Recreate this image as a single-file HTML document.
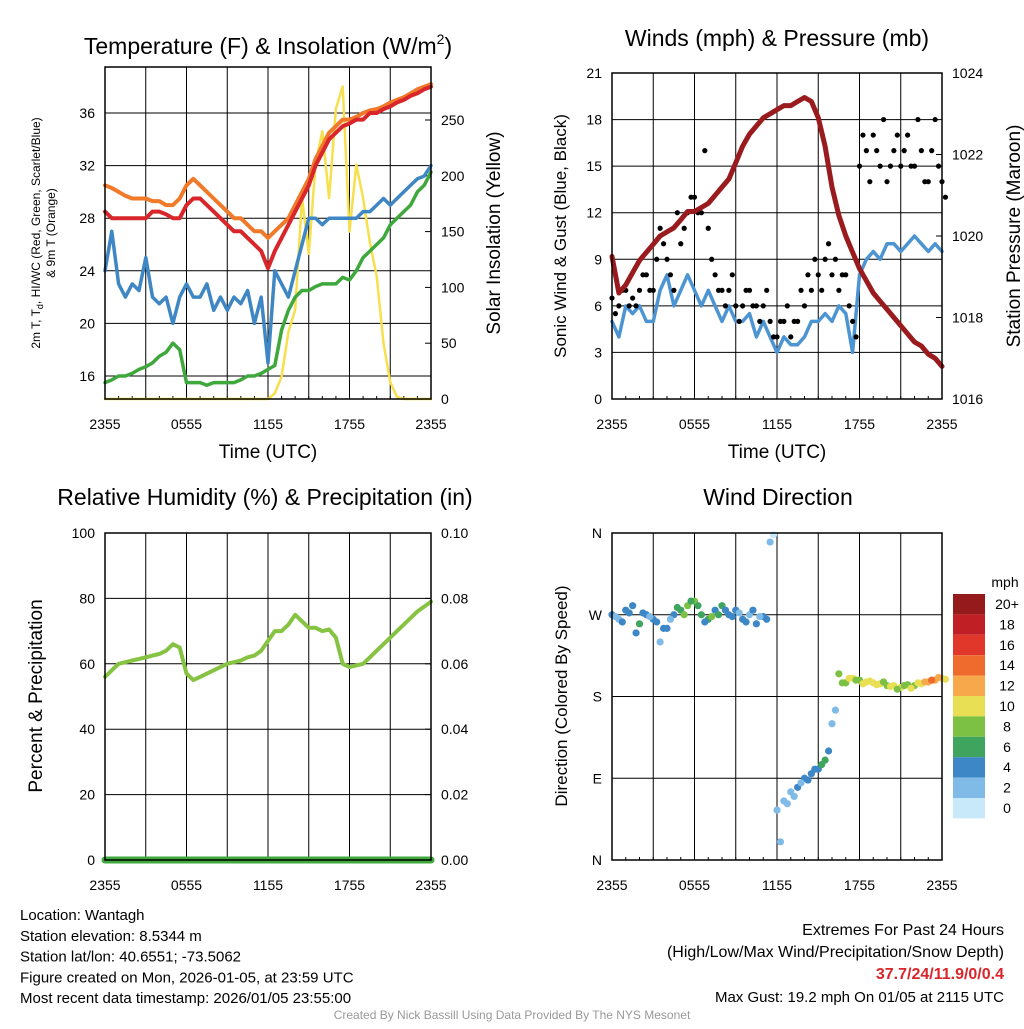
<!DOCTYPE html>
<html><head><meta charset="utf-8"><style>
body{margin:0;background:#fff;font-family:"Liberation Sans",sans-serif}
svg text{font-family:"Liberation Sans",sans-serif}
</style></head><body>
<svg id="s" width="1024" height="1024" xmlns="http://www.w3.org/2000/svg">
<rect width="1024" height="1024" fill="#fff"/>
</svg>
<script>
const tempRed=[28.5,28,28,28,28,28,28,28.5,28.5,28.3,28,28,29,29.5,29.5,29,28.5,28,27.5,27,27,26.5,26,25.5,24.2,25.5,26.5,27.5,28.5,29.5,30.5,32,33,34,34.5,35,35.2,35.5,35.5,36,36,36.3,36.5,36.8,37,37.3,37.5,37.8,38];
const temp9m=[30.5,30.3,30,29.7,29.5,29.5,29.5,29.3,29.3,29,29,29.5,30.5,31,30.5,30,29.5,29,28.5,28,28,27.5,27,27,26.5,27,27.5,28,29,30,31,32.5,33.5,34.5,35,35.5,35.5,35.7,36,36.2,36.3,36.5,36.8,37,37.2,37.5,37.8,38,38.2];
const dewpt=[15.5,15.7,16,16,16.2,16.5,16.7,17,17.5,17.8,18.5,18,15.5,15.5,15.5,15.3,15.5,15.5,15.5,15.5,15.7,16,16,16.2,16.5,16.8,19.5,21,22,22.5,22.5,22.8,23,23,23,23.5,23.3,24,25,25.5,26,26.5,27.5,28,28.5,29,30,30.5,31.5];
const windChill=[24,27,23,22,23,22.5,25,22,21.5,22,20,22,23,22,22,23,21,22,21,22,21.5,22.5,20,22,17,24,23,22,24,26,28,28,27.5,28,28,28,28,28,28.5,28.5,29,29.5,29,29.5,30,30.5,31,31.2,32];
const solar=[0,0,0,0,0,0,0,0,0,0,0,0,0,0,0,0,0,0,0,0,0,0,0,0,0,5,20,60,80,180,130,210,240,180,260,280,150,210,180,140,110,50,15,2,0,0,0,0,0];
const windSpd=[5,4,6,5.5,6,5,5,7,8,6,7,8,7,6,7,6,5,6,5,5,5.5,4,5,4,3,4,3.5,3.5,4,5,5,5.5,5,6,5.5,3,8,9,9.5,9,10,10,9.5,10,10.5,10,9.5,10,9.5];
const gustA=[6.5,6,7,6.5,7,8,7,11,9,7,10,12,13,12,11,8,7,7,6,6,7,6,6,5,4,5,4,5,6,7,8,9,8,7,8,5,15,16,17,15,14,16,15,17,15,16,14,18,14];
const gustB=[5.5,7,6,6,8,7,9,10,8,12,11,13,12,16,9,7,6,8,5,7,6,5,7,4,5,6,5,7,8,9,7,10,9,8,6,4,17,14,16,18,15,17,16,15,18,14,16,15,13];
const pressure=[1019.5,1018.6,1018.8,1019.1,1019.4,1019.6,1019.8,1020,1020.1,1020.2,1020.4,1020.6,1020.6,1020.7,1020.8,1021,1021.2,1021.4,1021.8,1022.2,1022.5,1022.7,1022.9,1023,1023.1,1023.2,1023.2,1023.3,1023.4,1023.3,1022.9,1022.2,1021.2,1020.5,1020,1019.6,1019.2,1018.9,1018.6,1018.4,1018.2,1018,1017.8,1017.6,1017.4,1017.3,1017.1,1017,1016.8];
const rh=[56,58,60,60.5,61,61.5,62,62.5,63,64,66,65,57,55,56,57,58,59,60,60.5,61,62,62.5,64,67,70,70,72,75,73,71,71,70,70.5,68,60,59,59.5,60,62,64,66,68,70,72,74,76,77.5,79];
const precip=[0,0,0,0,0,0,0,0,0,0,0,0,0,0,0,0,0,0,0,0,0,0,0,0,0,0,0,0,0,0,0,0,0,0,0,0,0,0,0,0,0,0,0,0,0,0,0,0,0];
const dirA=[270,265,275,280,260,270,265,240,255,270,275,280,285,270,265,275,280,270,275,265,270,260,268,350,55,65,75,80,90,95,100,110,150,205,195,200,198,196,195,194,192,192,190,193,192,194,196,198,200];
const spdA=[4,3,5,4,6,4,4,3,4,5,7,8,8,6,7,5,6,4,4,5,3,4,4,2,3,2,3,4,4,5,5,6,2,8,9,10,9,10,11,10,9,10,10,8,9,11,12,13,10];
const dirB=[268,262,272,250,272,268,262,255,265,278,270,285,280,262,268,270,275,268,272,262,275,268,265,358,20,62,70,85,88,100,105,120,165,195,200,198,194,197,193,196,191,188,192,189,195,196,198,201,199];
const spdB=[3,4,4,5,4,3,5,4,3,6,8,7,7,5,8,6,5,5,3,4,4,3,5,1,2,3,2,3,5,4,6,5,3,9,10,9,10,11,10,9,10,8,9,10,11,12,14,12,11];
const xTicks=["2355","0555","1155","1755","2355"];
const cbLabels=["20+","18","16","14","12","10","8","6","4","2","0"];
const cbColors=["#941a1c","#c11f26","#e0372a","#ef6a2d","#f7a84a","#e8df55","#7cc143","#3fa45e","#3d87c6","#7fbbe6","#c8e9fa"];

const S=document.getElementById('s');const NS="http://www.w3.org/2000/svg";
function el(t,a,txt){const e=document.createElementNS(NS,t);for(const k in a)e.setAttribute(k,a[k]);if(txt!==undefined)e.textContent=txt;S.appendChild(e);return e;}
function lin(d0,d1,r0,r1){return v=>r0+(v-d0)*(r1-r0)/(d1-d0);}
function path(arr,xs,ys){return arr.map((v,i)=>(i?'L':'M')+xs(i/2).toFixed(1)+' '+ys(v).toFixed(1)).join(' ');}
function text(x,y,s,o){o=o||{};const t=el('text',{x:x,y:y,'font-size':o.fs||14,'text-anchor':o.a||'middle',fill:o.fill||'#000','font-weight':o.fw||'normal'},s);if(o.rot)t.setAttribute('transform','rotate(-90 '+x+' '+y+')');return t;}
function panel(name,x0,x1,y0,y1){
  const xs=lin(0,24,x0,x1);
  for(let h=3;h<24;h+=3){const l=el('line',{x1:xs(h),x2:xs(h),y1:y0,y2:y1,stroke:'#000','stroke-width':1});}
  xTicks.forEach((t,i)=>{const x=xs(i*6);el('line',{x1:x,x2:x,y1:y1,y2:y1-6,stroke:'#000'});const tt=text(x,y1+30,t);});
  for(let h=0;h<=24;h+=1){el('line',{x1:xs(h),x2:xs(h),y1:y1,y2:y1-3,stroke:'#000'});}
  return xs;
}
function frame(name,x0,x1,y0,y1){const r=el('rect',{x:x0,y:y0,width:x1-x0,height:y1-y0,fill:'none',stroke:'#000','stroke-width':1.5});}
function hgrid(ys,vals,x0,x1,fmt,side){vals.forEach(v=>{const y=ys(v);el('line',{x1:x0,x2:x1,y1:y,y2:y,stroke:'#000'});const t=side==='r'?text(x1+10,y+5,fmt(v),{a:'start'}):text(x0-10,y+5,fmt(v),{a:'end'});});}
function line(d,c,w,name){const p=el('path',{d:d,fill:'none',stroke:c,'stroke-width':w,'stroke-linejoin':'round','stroke-linecap':'round'});return p;}

// Panel 1
{const x0=105,x1=431,y0=67,y1=399;const xs=panel('temp',x0,x1,y0,y1);
const ys=lin(16,36,376,113);const yr=lin(0,250,399,120);
hgrid(ys,[16,20,24,28,32,36],x0,x1,v=>v);
[0,50,100,150,200,250].forEach(v=>{const y=yr(v);el('line',{x1:x1,x2:x1-6,y1:y,y2:y,stroke:'#000'});const t=text(x1+10,y+5,v,{a:'start'});});
line(path(solar,xs,yr),'#f6e04d',2.5,'solar-line');
line(path(windChill,xs,ys),'#3f87c4',3.5,'windchill-line');
line(path(dewpt,xs,ys),'#3fa83c',3.5,'dewpoint-line');
line(path(temp9m,xs,ys),'#f07a2a',4,'temp9m-line');
line(path(tempRed,xs,ys),'#d8262a',4,'temp2m-line');
frame('temp-plot-frame',x0,x1,y0,y1);
const t=el('text',{x:268,y:54,'font-size':23,'text-anchor':'middle'});t.innerHTML='Temperature (F) &amp; Insolation (W/m<tspan font-size="14" dy="-10">2</tspan><tspan dy="10">)</tspan>';
text(268,458,'Time (UTC)',{fs:19});
const a=text(40,233,'2m T, T',{fs:12,rot:1});a.innerHTML='2m T, T<tspan font-size="9" dy="3">d</tspan><tspan dy="-3">, HI/WC (Red, Green, Scarlet/Blue)</tspan>';
text(55,233,'& 9m T (Orange)',{fs:12,rot:1});
text(500,233,'Solar Insolation (Yellow)',{fs:19,rot:1});}

// Panel 2
{const x0=612,x1=942,y0=73,y1=399;const xs=panel('wind',x0,x1,y0,y1);
const ys=lin(0,21,399,73);const yr=lin(1016,1024,399,73);
hgrid(ys,[0,3,6,9,12,15,18,21],x0,x1,v=>v);
[1016,1018,1020,1022,1024].forEach(v=>{const y=yr(v);el('line',{x1:x1,x2:x1-6,y1:y,y2:y,stroke:'#000'});text(x1+10,y+5,v,{a:'start'});});
line(path(windSpd,xs,ys),'#4d95d2',3.5,'wind-speed-line');
gustA.forEach((g,i)=>{const c=el('circle',{cx:xs(i/2),cy:ys(g),r:2.6,fill:'#000'});});
gustB.forEach((g,i)=>{const c=el('circle',{cx:xs(i/2+0.25),cy:ys(g),r:2.6,fill:'#000'});});
line(path(pressure,xs,yr),'#9a1b1e',5,'pressure-line');
frame('wind-plot-frame',x0,x1,y0,y1);
text(777,46,'Winds (mph) & Pressure (mb)',{fs:23});
text(777,458,'Time (UTC)',{fs:19});
text(566,236,'Sonic Wind & Gust (Blue, Black)',{fs:17,rot:1});
text(1020,236,'Station Pressure (Maroon)',{fs:19,rot:1});}

// Panel 3
{const x0=105,x1=431,y0=533,y1=860;const xs=panel('rh',x0,x1,y0,y1);
const ys=lin(0,100,860,533);const yr=lin(0,0.1,860,533);
hgrid(ys,[0,20,40,60,80,100],x0,x1,v=>v);
[0,0.02,0.04,0.06,0.08,0.1].forEach(v=>{const y=yr(v);el('line',{x1:x1,x2:x1-6,y1:y,y2:y,stroke:'#000'});text(x1+10,y+5,v.toFixed(2),{a:'start'});});
line(path(rh,xs,ys),'#86c342',4,'rh-line');
line(path(precip,xs,yr),'#3fa83c',7,'precip-line');
frame('rh-plot-frame',x0,x1,y0,y1);
text(265,505,'Relative Humidity (%) & Precipitation (in)',{fs:23});
text(42,696,'Percent & Precipitation',{fs:19,rot:1});}

// Panel 4
{const x0=612,x1=942,y0=533,y1=860;const xs=panel('dir',x0,x1,y0,y1);
const ys=lin(0,360,860,533);
hgrid(ys,[0,90,180,270,360],x0,x1,v=>['N','E','S','W','N'][v/90]);
function col(s){let i=Math.min(10,Math.floor(s/2));return cbColors[10-i];}
dirA.forEach((d,i)=>{const c=el('circle',{cx:xs(i/2),cy:ys(d),r:3.6,fill:col(spdA[i])});});
dirB.forEach((d,i)=>{const c=el('circle',{cx:xs(i/2+0.25),cy:ys(d),r:3.6,fill:col(spdB[i])});});
frame('dir-plot-frame',x0,x1,y0,y1);
text(778,505,'Wind Direction',{fs:23});
text(567,696,'Direction (Colored By Speed)',{fs:17,rot:1});
text(1005,587,'mph',{fs:14,a:'middle'});
const bh=20.4;cbColors.forEach((c,i)=>{const r=el('rect',{x:953,y:594+i*bh,width:32,height:bh,fill:c});text(1007,594+i*bh+15,cbLabels[i],{fs:14});});}

// Footer
["Location: Wantagh","Station elevation: 8.5344 m","Station lat/lon: 40.6551; -73.5062","Figure created on Mon, 2026-01-05, at 23:59 UTC","Most recent data timestamp: 2026/01/05 23:55:00"].forEach((s,i)=>{const t=text(20,920+i*20.8,s,{fs:15,a:'start'});});
text(1004,935,'Extremes For Past 24 Hours',{fs:16,a:'end'});
text(1004,957,'(High/Low/Max Wind/Precipitation/Snow Depth)',{fs:16,a:'end'});
text(1004,979,'37.7/24/11.9/0/0.4',{fs:16,a:'end',fill:'#d8262a',fw:'bold'});
text(1004,1002,'Max Gust: 19.2 mph On 01/05 at 2115 UTC',{fs:15,a:'end'});
text(512,1019,'Created By Nick Bassill Using Data Provided By The NYS Mesonet',{fs:12,fill:'#999'});
</script>
</body></html>
